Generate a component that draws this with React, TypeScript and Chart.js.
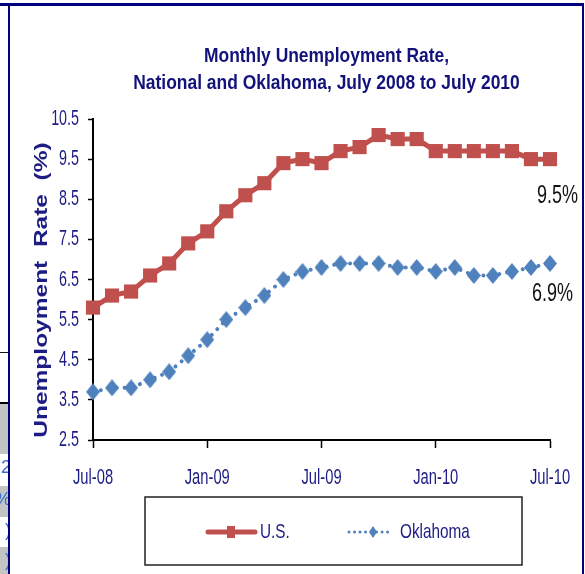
import React, { useEffect, useRef } from 'react';
import { Chart, registerables } from 'chart.js';

Chart.register(...registerables);

// ---------- data ----------
const months = [
  'Jul-08', 'Aug-08', 'Sep-08', 'Oct-08', 'Nov-08', 'Dec-08',
  'Jan-09', 'Feb-09', 'Mar-09', 'Apr-09', 'May-09', 'Jun-09',
  'Jul-09', 'Aug-09', 'Sep-09', 'Oct-09', 'Nov-09', 'Dec-09',
  'Jan-10', 'Feb-10', 'Mar-10', 'Apr-10', 'May-10', 'Jun-10', 'Jul-10',
];
const usRate = [5.8, 6.1, 6.2, 6.6, 6.9, 7.4, 7.7, 8.2, 8.6, 8.9, 9.4, 9.5, 9.4, 9.7, 9.8, 10.1, 10.0, 10.0, 9.7, 9.7, 9.7, 9.7, 9.7, 9.5, 9.5];
const okRate = [3.7, 3.8, 3.8, 4.0, 4.2, 4.6, 5.0, 5.5, 5.8, 6.1, 6.5, 6.7, 6.8, 6.9, 6.9, 6.9, 6.8, 6.8, 6.7, 6.8, 6.6, 6.6, 6.7, 6.8, 6.9];
const seriesNames = ['U.S.', 'Oklahoma'];
const endLabels = ['9.5%', '6.9%'];
const titleLines = ['Monthly Unemployment Rate,', 'National and Oklahoma, July 2008 to July 2010'];
const yAxisTitle = 'Unemployment  Rate  (%)';
const yMin = 2.5;
const yMax = 10.5;
const yStep = 1;
const xLabelEvery = 6;

// ---------- style ----------
const SANS = '"Liberation Sans", Arial, sans-serif';
const NAVY = '#1c1c84';
const TITLE_NAVY = '#12127a';
const US_RED = '#C0504D';
const OK_BLUE = '#4F81BD';

function makeDiamond(w: number, h: number, color: string) {
  const c = document.createElement('canvas');
  c.width = w;
  c.height = h;
  const g = c.getContext('2d')!;
  g.fillStyle = color;
  g.beginPath();
  g.moveTo(w / 2, 0);
  g.lineTo(w, h / 2);
  g.lineTo(w / 2, h);
  g.lineTo(0, h / 2);
  g.closePath();
  g.fill();
  return c;
}

// text squeezed horizontally (the reference uses a condensed face)
function narrowText(
  ctx: CanvasRenderingContext2D, text: string, x: number, y: number,
  align: CanvasTextAlign, font: string, color: string, sx: number,
) {
  ctx.save();
  ctx.font = font;
  ctx.fillStyle = color;
  ctx.textAlign = align;
  ctx.textBaseline = 'middle';
  ctx.translate(x, y);
  ctx.scale(sx, 1);
  ctx.fillText(text, 0, 0);
  ctx.restore();
}

const overlayPlugin = {
  id: 'overlay',
  afterDraw(chart: any) {
    const ctx = chart.ctx as CanvasRenderingContext2D;
    const area = chart.chartArea;
    const xs = chart.scales.x;
    const ys = chart.scales.y;
    ctx.save();

    // title
    const cx = (area.left + area.right) / 2 + 5;
    titleLines.forEach((t, i) =>
      narrowText(ctx, t, cx, 56 + i * 27, 'center', `bold 21px ${SANS}`, TITLE_NAVY, 0.83));

    // y tick labels
    ys.ticks.forEach((t: any) => {
      const py = ys.getPixelForValue(t.value);
      narrowText(ctx, Number(t.value).toFixed(1), 79, py, 'right', `22px ${SANS}`, NAVY, 0.65);
    });
    // x tick labels
    months.forEach((m, i) => {
      if (i % xLabelEvery !== 0) return;
      const px = xs.getPixelForValue(i);
      narrowText(ctx, m, px, 478, 'center', `22px ${SANS}`, NAVY, 0.67);
    });

    // y-axis title (rotated, squeezed)
    ctx.save();
    ctx.translate(42, 290);
    ctx.scale(0.75, 1);
    ctx.rotate(-Math.PI / 2);
    ctx.font = `bold 24.5px ${SANS}`;
    ctx.fillStyle = NAVY;
    ctx.textAlign = 'center';
    ctx.textBaseline = 'middle';
    ctx.fillText(yAxisTitle, 0, 0);
    ctx.restore();

    // end-of-series labels
    const offsets = [[28, 37], [23, 31]];
    chart.data.datasets.forEach((ds: any, i: number) => {
      const meta = chart.getDatasetMeta(i);
      const last = meta.data[meta.data.length - 1];
      narrowText(ctx, endLabels[i], last.x + offsets[i][0], last.y + offsets[i][1], 'right', `25px ${SANS}`, '#111', 0.72);
    });

    // legend box
    const bx = 145, by = 497, bw = 377, bh = 68;
    ctx.strokeStyle = '#222';
    ctx.lineWidth = 1.5;
    ctx.strokeRect(bx, by, bw, bh);
    const ly = by + 35;
    // U.S.
    ctx.strokeStyle = US_RED;
    ctx.lineWidth = 5;
    ctx.lineCap = 'round';
    ctx.beginPath();
    ctx.moveTo(208, ly);
    ctx.lineTo(255, ly);
    ctx.stroke();
    ctx.fillStyle = US_RED;
    ctx.fillRect(227, ly - 6, 8, 12);
    // Oklahoma
    ctx.strokeStyle = OK_BLUE;
    ctx.lineWidth = 3;
    ctx.setLineDash([0.01, 5.5]);
    ctx.beginPath();
    ctx.moveTo(349, ly);
    ctx.lineTo(392, ly);
    ctx.stroke();
    ctx.setLineDash([]);
    ctx.drawImage(makeDiamond(8, 12, OK_BLUE), 369, ly - 6);

    narrowText(ctx, chart.data.datasets[0].label, 260, ly, 'left', `21px ${SANS}`, NAVY, 0.73);
    narrowText(ctx, chart.data.datasets[1].label, 400, ly, 'left', `21px ${SANS}`, NAVY, 0.73);
    ctx.restore();
  },
};

export default function App() {
  const ref = useRef<HTMLCanvasElement>(null);

  useEffect(() => {
    const diamond = makeDiamond(14, 17, OK_BLUE);
    const chart = new Chart(ref.current!, {
      type: 'line',
      data: {
        labels: months,
        datasets: [
          {
            label: seriesNames[0],
            data: usRate,
            borderColor: US_RED,
            backgroundColor: US_RED,
            borderWidth: 5,
            pointStyle: 'rect',
            pointRadius: 10,
            pointBorderWidth: 0,
            pointBackgroundColor: US_RED,
            tension: 0,
            clip: false,
          },
          {
            label: seriesNames[1],
            data: okRate,
            borderColor: OK_BLUE,
            backgroundColor: OK_BLUE,
            borderWidth: 4,
            borderDash: [0.01, 8],
            borderCapStyle: 'round',
            pointStyle: diamond,
            pointRadius: 8,
            tension: 0,
            clip: false,
          },
        ],
      },
      options: {
        responsive: false,
        animation: false,
        devicePixelRatio: 1,
        layout: { padding: { top: 119, right: 35, left: 0, bottom: 0 } },
        plugins: {
          legend: { display: false },
          title: { display: false },
          tooltip: { enabled: false },
        },
        scales: {
          x: {
            type: 'category',
            offset: false,
            afterFit: (s: any) => { s.height = 134; },
            border: { display: true, color: '#000', width: 2 },
            grid: {
              drawOnChartArea: false,
              drawTicks: true,
              tickLength: 8,
              tickWidth: 1.5,
              color: (c: any) => (c.index % xLabelEvery === 0 ? '#000' : 'rgba(0,0,0,0)'),
            },
            ticks: { display: false, autoSkip: false },
          },
          y: {
            min: yMin,
            max: yMax,
            afterFit: (s: any) => { s.width = 93; },
            border: { display: true, color: '#000', width: 2 },
            grid: {
              drawOnChartArea: false,
              drawTicks: true,
              tickLength: 5,
              tickWidth: 1.5,
              color: '#000',
            },
            ticks: { display: false, stepSize: yStep },
          },
        },
      },
      plugins: [overlayPlugin],
    });
    return () => chart.destroy();
  }, []);

  const strip = (top: number, height: number, bg: string, text?: string) => (
    <div style={{ position: 'absolute', left: 0, top, width: 8, height, background: bg, overflow: 'hidden' }}>
      {text ? (
        <span style={{ position: 'absolute', right: -3, top: 2, font: '18px "Liberation Sans", Arial, sans-serif', color: '#3a6fc8', lineHeight: '22px' }}>{text}</span>
      ) : null}
    </div>
  );

  return (
    <div style={{ position: 'fixed', left: 0, top: 0, width: 585, height: 574, background: '#fff', overflow: 'hidden' }}>
      <canvas ref={ref} width={585} height={574} style={{ position: 'absolute', left: 0, top: 0 }} />
      {/* slide frame */}
      <div style={{ position: 'absolute', left: 0, top: 3, width: 584, height: 3, background: '#000080' }} />
      <div style={{ position: 'absolute', left: 8, top: 3, width: 2, height: 571, background: '#000080' }} />
      <div style={{ position: 'absolute', left: 582, top: 3, width: 2, height: 571, background: '#000080' }} />
      {/* fragment of neighbouring table */}
      <div style={{ position: 'absolute', left: 0, top: 352, width: 8, height: 1, background: '#111' }} />
      <div style={{ position: 'absolute', left: 0, top: 402, width: 8, height: 2, background: '#000' }} />
      {strip(404, 50, '#c4c4c4')}
      {strip(454, 32, '#fff', '2')}
      {strip(486, 31, '#c4c4c4', '%')}
      {strip(517, 30, '#fff', ')')}
      {strip(547, 27, '#c4c4c4', ')')}
    </div>
  );
}
